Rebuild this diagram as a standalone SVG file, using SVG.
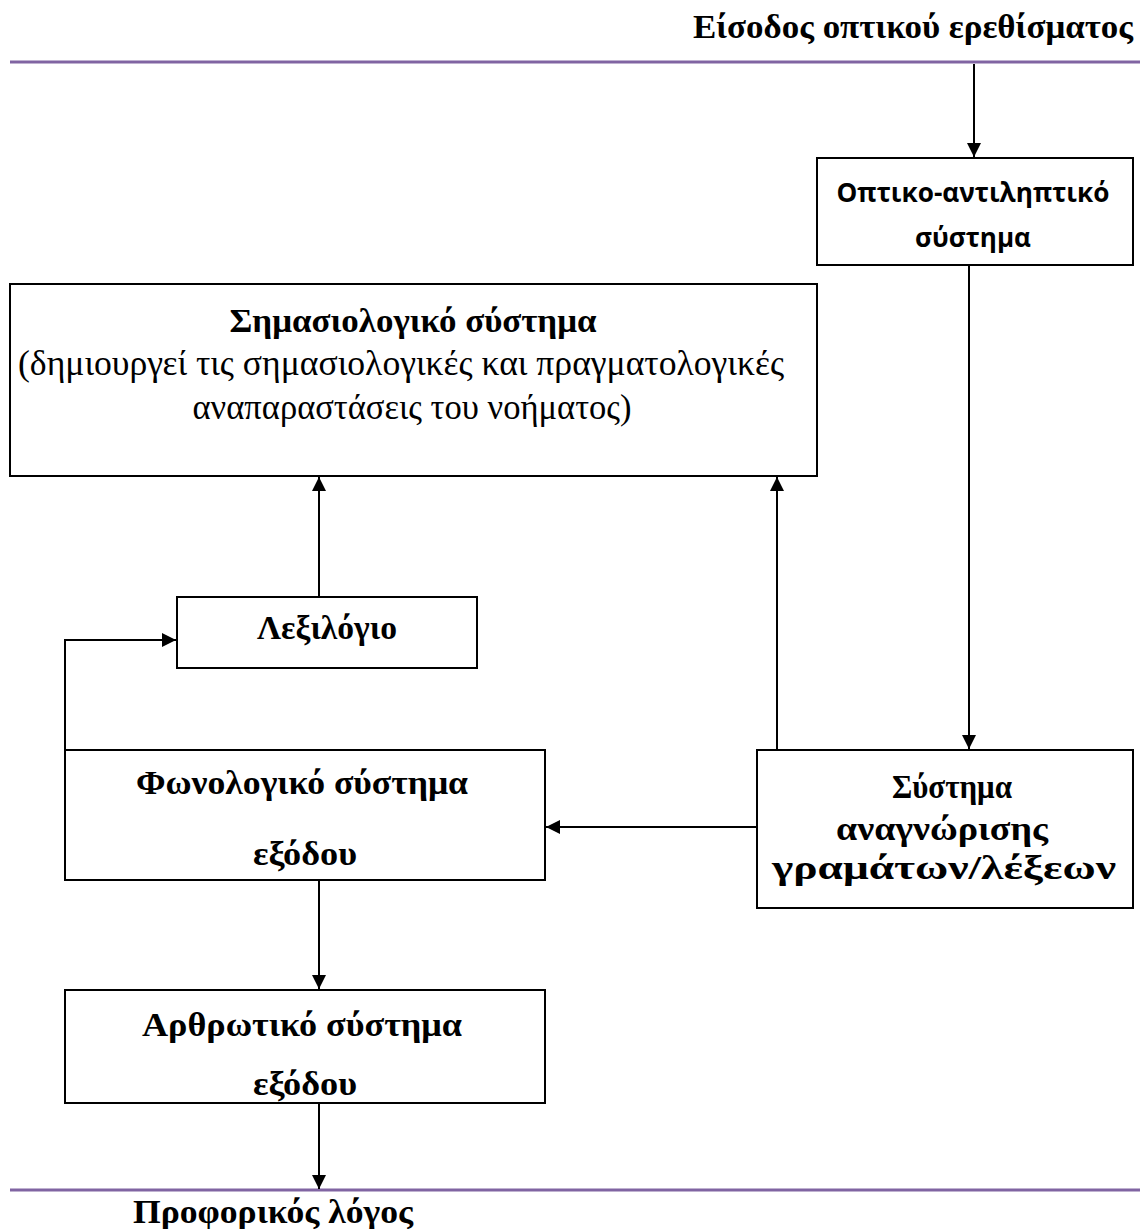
<svg xmlns="http://www.w3.org/2000/svg" width="1140" height="1229" viewBox="0 0 1140 1229">
<style>
.box{fill:#fff;stroke:#000;stroke-width:2}
.sep{stroke:#8064A2;stroke-width:3}
.con{stroke:#000;stroke-width:2;fill:none}
.t{font-family:"Liberation Serif",serif;font-weight:bold;font-size:34px;fill:#000;text-anchor:middle}
.s{font-family:"Open Sans","Liberation Sans",sans-serif;font-weight:bold;font-size:26px;fill:#000;text-anchor:middle}
.n{font-family:"Liberation Serif",serif;font-size:35px;fill:#000;text-anchor:middle}
</style>
<defs>
<marker id="ah" markerWidth="14" markerHeight="14" refX="14" refY="7" orient="auto" markerUnits="userSpaceOnUse" viewBox="0 0 14 14">
<path d="M0,0 L14,7 L0,14 z" fill="#000"/>
</marker>
</defs>
<rect width="1140" height="1229" fill="#fff"/>
<g id="top-label"><text class="t" x="913" y="38" textLength="440" lengthAdjust="spacingAndGlyphs">Είσοδος οπτικού ερεθίσματος</text></g>
<line class="sep" x1="10" y1="62" x2="1140" y2="62"/>
<line class="sep" x1="10" y1="1190" x2="1140" y2="1190"/>
<g id="connectors">
<line class="con" x1="974" y1="64" x2="974" y2="157" marker-end="url(#ah)"/>
<line class="con" x1="969" y1="266" x2="969" y2="749" marker-end="url(#ah)"/>
<line class="con" x1="319" y1="596" x2="319" y2="477" marker-end="url(#ah)"/>
<line class="con" x1="777" y1="750" x2="777" y2="477" marker-end="url(#ah)"/>
<polyline class="con" points="65,750 65,640 176,640" marker-end="url(#ah)"/>
<line class="con" x1="757" y1="827" x2="546" y2="827" marker-end="url(#ah)"/>
<line class="con" x1="319" y1="880" x2="319" y2="989" marker-end="url(#ah)"/>
<line class="con" x1="319" y1="1103" x2="319" y2="1189" marker-end="url(#ah)"/>
</g>
<g id="optical">
<rect class="box" x="817" y="158" width="316" height="107"/>
<text class="s" x="973" y="202" textLength="273" lengthAdjust="spacingAndGlyphs">Οπτικο-αντιληπτικό</text>
<text class="s" x="973" y="247">σύστημα</text>
</g>
<g id="semantic">
<rect class="box" x="10" y="284" width="807" height="192"/>
<text class="t" x="413" y="332" textLength="367" lengthAdjust="spacingAndGlyphs">Σημασιολογικό σύστημα</text>
<text class="n" x="401" y="375" textLength="766" lengthAdjust="spacingAndGlyphs">(δημιουργεί τις σημασιολογικές και πραγματολογικές</text>
<text class="n" x="412" y="419" textLength="439" lengthAdjust="spacingAndGlyphs">αναπαραστάσεις του νοήματος)</text>
</g>
<g id="lexicon">
<rect class="box" x="177" y="597" width="300" height="71"/>
<text class="t" x="327" y="639" textLength="140" lengthAdjust="spacingAndGlyphs">Λεξιλόγιο</text>
</g>
<g id="phonological">
<rect class="box" x="65" y="750" width="480" height="130"/>
<text class="t" x="302" y="794" textLength="332" lengthAdjust="spacingAndGlyphs">Φωνολογικό σύστημα</text>
<text class="t" x="305" y="865" textLength="104" lengthAdjust="spacingAndGlyphs">εξόδου</text>
</g>
<g id="recognition">
<rect class="box" x="757" y="750" width="376" height="158"/>
<text class="t" x="952" y="798" textLength="120" lengthAdjust="spacingAndGlyphs">Σύστημα</text>
<text class="t" x="942" y="840" textLength="212" lengthAdjust="spacingAndGlyphs">αναγνώρισης</text>
<text class="t" x="944" y="879" textLength="344" lengthAdjust="spacingAndGlyphs">γραμάτων/λέξεων</text>
</g>
<g id="articulatory">
<rect class="box" x="65" y="990" width="480" height="113"/>
<text class="t" x="302" y="1036" textLength="320" lengthAdjust="spacingAndGlyphs">Αρθρωτικό σύστημα</text>
<text class="t" x="305" y="1095" textLength="104" lengthAdjust="spacingAndGlyphs">εξόδου</text>
</g>
<g id="bottom-label"><text class="t" x="273" y="1223" textLength="280" lengthAdjust="spacingAndGlyphs">Προφορικός λόγος</text></g>
</svg>
